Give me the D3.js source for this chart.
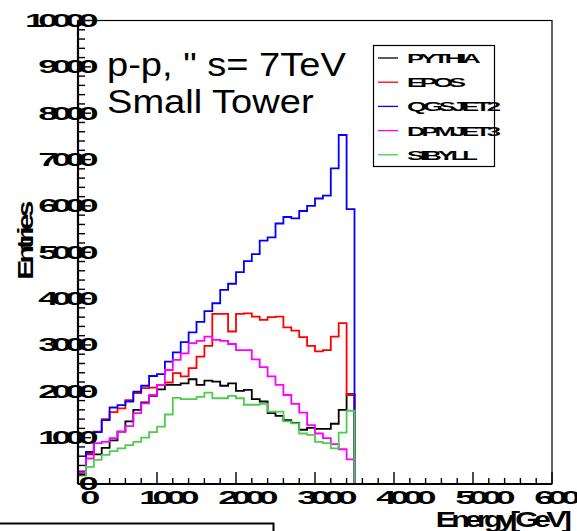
<!DOCTYPE html>
<html>
<head>
<meta charset="utf-8">
<script src="https://cdn.jsdelivr.net/npm/d3@7"></script>
<style>
  body { margin: 0; background: #fff; }
  svg { display: block; }
</style>
</head>
<body>
<svg id="chart" width="577" height="531"></svg>
<script>
// bin width 100 GeV, bins start at 0
const binWidth = 100;

const pythia = [200, 640, 640, 780, 940, 1130, 1350, 1600, 1760, 1900, 2040, 2140, 2140, 2170, 2260, 2140, 2230, 2210,
  2120, 2170, 2010, 2030, 1830, 1780, 1530, 1470, 1380, 1320, 1170, 1210, 1190, 1190, 1300, 1600, 1940];
const epos = [230, 650, 1130, 1400, 1550, 1630, 1810, 1960, 2070, 2080, 2140, 2190, 2390, 2320, 2500, 2750, 2980, 3670,
  3670, 3290, 3670, 3680, 3610, 3540, 3600, 3610, 3380, 3310, 3170, 2980, 2860, 2890, 3180, 3470, 1920];
const qgsjet2 = [270, 690, 1120, 1380, 1650, 1700, 1780, 1990, 2120, 2330, 2370, 2640, 2840, 3060, 3270, 3500, 3730, 3900,
  4190, 4320, 4570, 4810, 4960, 5250, 5320, 5620, 5760, 5730, 5890, 6000, 6160, 6220, 6810, 7530, 5930];
const dpmjet3 = [250, 550, 880, 910, 990, 1130, 1250, 1530, 1740, 1920, 2140, 2460, 2680, 2820, 3040, 3090, 3180, 3110,
  3090, 3020, 2890, 2890, 2690, 2520, 2320, 2140, 1920, 1730, 1540, 1270, 1090, 990, 860, 750, 530];
const sibyll = [180, 370, 520, 630, 710, 770, 840, 910, 1000, 1120, 1240, 1500, 1860, 1830, 1830, 1880, 1970, 1850,
  1850, 1900, 1850, 1710, 1710, 1730, 1560, 1560, 1350, 1310, 1090, 1060, 910, 880, 770, 1110, 1580];

const seriesNames = ["PYTHIA", "EPOS", "QGSJET2", "DPMJET3", "SIBYLL"];
const seriesColors = ["#000000", "#ff0000", "#0000ff", "#ff00ff", "#4ccd4c"];
const seriesValues = [pythia, epos, qgsjet2, dpmjet3, sibyll];

const xTicks = [0, 1000, 2000, 3000, 4000, 5000, 6000];
const yTicks = [0, 1000, 2000, 3000, 4000, 5000, 6000, 7000, 8000, 9000, 10000];

const svg = d3.select("#chart");
const x = d3.scaleLinear().domain([0, 6000]).range([78, 552]);
const y = d3.scaleLinear().domain([0, 10000]).range([484, 20.5]);

// squashed ROOT-like label text
function rootText(g, str, px, py, anchor, size, sx, sy, ls) {
  return g.append("g").attr("transform", "translate(" + px + "," + py + ")")
    .append("text")
    .attr("transform", "scale(" + sx + "," + sy + ")")
    .attr("text-anchor", anchor)
    .attr("dominant-baseline", "central")
    .style("font-family", "Liberation Sans, Arial, sans-serif")
    .style("font-weight", "bold")
    .style("font-size", size + "px")
    .style("letter-spacing", ls + "px")
    .text(str);
}

// frame
svg.append("rect")
  .attr("x", x(0)).attr("y", y(10000))
  .attr("width", x(6000) - x(0)).attr("height", y(0) - y(10000))
  .attr("fill", "none").attr("stroke", "#000").attr("stroke-width", 1.2);

// histograms
const line = d3.line()
  .x(d => x(d[0]))
  .y(d => y(d[1]))
  .curve(d3.curveStepAfter);

seriesValues.forEach((vals, k) => {
  const pts = vals.map((v, i) => [i * binWidth, v]);
  pts.push([vals.length * binWidth, 0]);
  pts.push([6000, 0]);
  svg.append("path")
    .attr("d", line(pts))
    .attr("fill", "none")
    .attr("stroke", seriesColors[k])
    .attr("stroke-width", 1.8);
});

// y axis
const yAxis = svg.append("g");
yAxis.append("line").attr("x1", x(0)).attr("x2", x(0)).attr("y1", y(0)).attr("y2", y(10000))
  .attr("stroke", "#000").attr("stroke-width", 2.2);
d3.range(0, 10001, 200).forEach(v => {
  const major = v % 1000 === 0;
  yAxis.append("line")
    .attr("x1", x(0)).attr("x2", x(0) + (major ? 13 : 7))
    .attr("y1", y(v)).attr("y2", y(v))
    .attr("stroke", "#000").attr("stroke-width", 1.4);
});
yTicks.forEach(v => {
  rootText(yAxis, String(v), 92, y(v), "end", 19, 1.9, 0.95, -3.5);
});

// x axis
const xAxis = svg.append("g");
xAxis.append("line").attr("x1", x(0)).attr("x2", x(6000)).attr("y1", y(0)).attr("y2", y(0))
  .attr("stroke", "#000").attr("stroke-width", 2.2);
d3.range(0, 6001, 200).forEach(v => {
  const major = v % 1000 === 0;
  xAxis.append("line")
    .attr("x1", x(v)).attr("x2", x(v))
    .attr("y1", y(0)).attr("y2", y(0) - (major ? 12 : 6))
    .attr("stroke", "#000").attr("stroke-width", 1.4);
});
xTicks.forEach(v => {
  rootText(xAxis, String(v), x(v) + 9, 498, "middle", 19, 1.9, 0.95, -3.5);
});

// axis titles
rootText(svg, "Energy[GeV]", 567, 520, "end", 19, 1.6, 1.15, -3);
svg.append("g").attr("transform", "translate(25,242) rotate(-90)")
  .append("text")
  .attr("transform", "scale(1.5,1.1)")
  .attr("text-anchor", "middle")
  .attr("dominant-baseline", "central")
  .style("font-family", "Liberation Sans, Arial, sans-serif")
  .style("font-weight", "bold")
  .style("font-size", "20px")
  .style("letter-spacing", "-2.5px")
  .text("Entries");

// label
const lbl = svg.append("g").attr("transform", "translate(107,0) scale(1.12,1)")
  .style("font-family", "Liberation Sans, Arial, sans-serif").style("font-size", "34px");
lbl.append("text").attr("x", 0).attr("y", 76).text('p-p, " s= 7TeV');
lbl.append("text").attr("x", 0).attr("y", 113).text("Small Tower");

// legend
const leg = svg.append("g");
leg.append("rect").attr("x", 373.5).attr("y", 45.5).attr("width", 121).attr("height", 121)
  .attr("fill", "#fff").attr("stroke", "#000").attr("stroke-width", 1.2);
seriesNames.forEach((name, k) => {
  const ly = 58 + k * 24.2;
  leg.append("line").attr("x1", 378).attr("x2", 398).attr("y1", ly).attr("y2", ly)
    .attr("stroke", seriesColors[k]).attr("stroke-width", 1.3);
  rootText(leg, name, 407, ly, "start", 16, 1.6, 0.85, -2.5);
});

// lower pad edge
svg.append("path")
  .attr("d", "M0,523.5H273.5V531")
  .attr("fill", "none").attr("stroke", "#000").attr("stroke-width", 2);
</script>
</body>
</html>
